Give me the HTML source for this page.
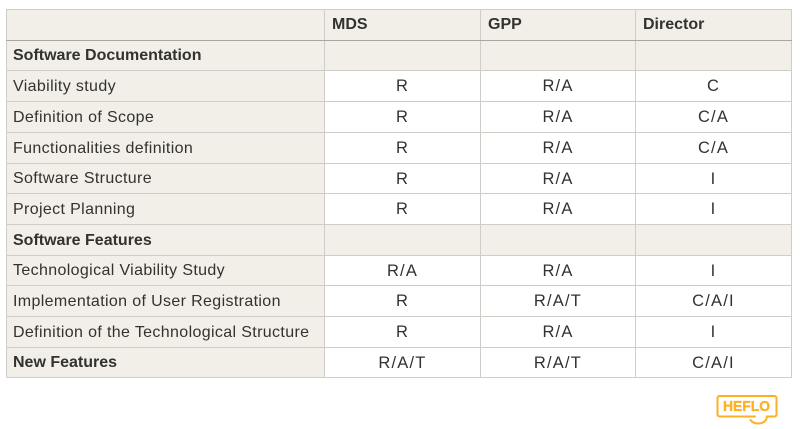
<!DOCTYPE html>
<html lang="en">
<head>
<meta charset="utf-8">
<title>RACI matrix</title>
<style>
html,body{margin:0;padding:0;background:#fff;width:800px;height:429px;overflow:hidden}
body{position:relative;font-family:"Liberation Sans",Arial,sans-serif;color:#33322f}
table{position:absolute;left:6px;top:9px;border-collapse:collapse;table-layout:fixed;width:785px;font-size:16.5px;letter-spacing:1.2px}
td,th{border:1px solid #cfcdc7;padding:1px 0 0;box-sizing:border-box;font-weight:400;overflow:hidden;white-space:nowrap;text-align:center;background:#fff}
.l{text-align:left;padding-left:6px;background:#f2efe8;font-size:16px;letter-spacing:.36px}
.s{background:#f2efe8}
.b{font-weight:700;letter-spacing:0}
thead th{background:#f2efe8;text-align:left;padding:0 0 0 7px;border-bottom-color:#a9a79f;font-weight:700;font-size:16px;letter-spacing:0}
svg{position:absolute;left:714px;top:392px}
</style>
</head>
<body>
<table>
<colgroup><col style="width:318px"><col style="width:156px"><col style="width:155px"><col style="width:156px"></colgroup>
<thead>
<tr style="height:31px"><th></th><th>MDS</th><th>GPP</th><th>Director</th></tr>
</thead>
<tbody>
<tr style="height:30px"><td class="l b">Software Documentation</td><td class="s"></td><td class="s"></td><td class="s"></td></tr>
<tr style="height:31px"><td class="l">Viability study</td><td>R</td><td>R/A</td><td>C</td></tr>
<tr style="height:31px"><td class="l">Definition of Scope</td><td>R</td><td>R/A</td><td>C/A</td></tr>
<tr style="height:31px"><td class="l">Functionalities definition</td><td>R</td><td>R/A</td><td>C/A</td></tr>
<tr style="height:30px"><td class="l">Software Structure</td><td>R</td><td>R/A</td><td>I</td></tr>
<tr style="height:31px"><td class="l">Project Planning</td><td>R</td><td>R/A</td><td>I</td></tr>
<tr style="height:31px"><td class="l b">Software Features</td><td class="s"></td><td class="s"></td><td class="s"></td></tr>
<tr style="height:30px"><td class="l">Technological Viability Study</td><td>R/A</td><td>R/A</td><td>I</td></tr>
<tr style="height:31px"><td class="l">Implementation of User Registration</td><td>R</td><td>R/A/T</td><td>C/A/I</td></tr>
<tr style="height:31px"><td class="l">Definition of the Technological Structure</td><td>R</td><td>R/A</td><td>I</td></tr>
<tr style="height:30px"><td class="l b">New Features</td><td>R/A/T</td><td>R/A/T</td><td>C/A/I</td></tr>
</tbody>
</table>
<svg width="66" height="34" viewBox="0 0 66 34">
<path d="M41 24.500H5.500a2 2 0 0 1-2-2V6a2 2 0 0 1 2-2H60.500a2 2 0 0 1 2 2V22.500a2 2 0 0 1-2 2H53Q52 31.500 44 31.500Q39 31.500 36.500 28" fill="none" stroke="#fdb022" stroke-width="2" stroke-linecap="round"/>
<text x="9" y="19" textLength="47" lengthAdjust="spacingAndGlyphs" font-family="'Liberation Sans',sans-serif" font-weight="700" font-size="14.5" fill="#fdb022" stroke="#fdb022" stroke-width=".35">HEFLO</text>
</svg>
</body>
</html>
